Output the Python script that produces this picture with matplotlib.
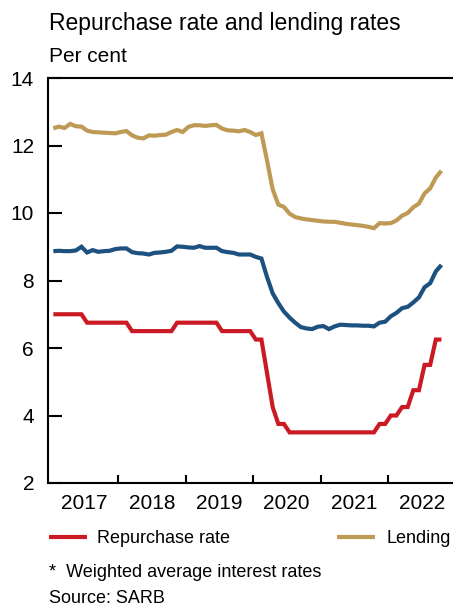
import matplotlib
matplotlib.use("Agg")
import matplotlib.pyplot as plt
from matplotlib.lines import Line2D
import numpy as np

plt.rcParams['font.family'] = ['Liberation Sans', 'DejaVu Sans']

# monthly data, Jan 2017 .. Oct 2022
start_year = 2017
repo = [7.0, 7.0, 7.0, 7.0, 7.0, 7.0,
        6.75, 6.75, 6.75, 6.75, 6.75, 6.75, 6.75, 6.75,
        6.5, 6.5, 6.5, 6.5, 6.5, 6.5, 6.5, 6.5,
        6.75, 6.75, 6.75, 6.75, 6.75, 6.75, 6.75, 6.75,
        6.5, 6.5, 6.5, 6.5, 6.5, 6.5,
        6.25, 6.25, 5.25, 4.25, 3.75, 3.75,
        3.5, 3.5, 3.5, 3.5, 3.5, 3.5, 3.5, 3.5,
        3.5, 3.5, 3.5, 3.5, 3.5, 3.5, 3.5, 3.5,
        3.75, 3.75, 4.0, 4.0, 4.25, 4.25, 4.75, 4.75, 5.5, 5.5, 6.25, 6.25]
lending_hh = [12.51, 12.56, 12.52, 12.64, 12.57, 12.56, 12.44, 12.40, 12.39, 12.38,
              12.37, 12.36, 12.40, 12.43, 12.30, 12.23, 12.21, 12.30, 12.29, 12.31,
              12.32, 12.40, 12.46, 12.40, 12.55, 12.60, 12.60, 12.58, 12.60, 12.61,
              12.50, 12.45, 12.44, 12.42, 12.46, 12.40, 12.31, 12.36, 11.55, 10.70,
              10.25, 10.18, 9.98, 9.88, 9.84, 9.81, 9.79, 9.77, 9.75, 9.74,
              9.74, 9.71, 9.68, 9.66, 9.64, 9.62, 9.59, 9.55, 9.70, 9.69,
              9.70, 9.78, 9.92, 10.00, 10.17, 10.28, 10.58, 10.73, 11.05, 11.25]
lending_co = [8.87, 8.88, 8.87, 8.87, 8.89, 9.00, 8.83, 8.90, 8.85, 8.87,
              8.88, 8.93, 8.95, 8.95, 8.84, 8.81, 8.80, 8.77, 8.82, 8.83,
              8.85, 8.88, 9.01, 9.00, 8.98, 8.97, 9.02, 8.97, 8.97, 8.97,
              8.87, 8.84, 8.82, 8.77, 8.77, 8.77, 8.70, 8.65, 8.10, 7.62,
              7.33, 7.08, 6.90, 6.75, 6.62, 6.58, 6.56, 6.63, 6.65, 6.56,
              6.64, 6.69, 6.68, 6.67, 6.67, 6.66, 6.66, 6.64, 6.75, 6.78,
              6.94, 7.04, 7.18, 7.22, 7.35, 7.50, 7.80, 7.92, 8.27, 8.46]
years = [2017, 2018, 2019, 2020, 2021, 2022]
legend_names = ['Repurchase rate', 'Lending']

red = '#CB1A24'
gold = '#BE9A55'
blue = '#1D5180'

x = start_year + (np.arange(len(repo)) + 0.5) / 12

W, H = 453, 606
fig = plt.figure(figsize=(W / 100, H / 100), dpi=100)
ax = fig.add_axes([48 / W, 1 - 483 / H, (W - 48) / W, (483 - 78) / H])

ax.plot(x, lending_hh, color=gold, lw=3, solid_capstyle='butt', solid_joinstyle='miter')
ax.plot(x, lending_co, color=blue, lw=3, solid_capstyle='butt', solid_joinstyle='miter')
ax.plot(x, repo, color=red, lw=3, solid_capstyle='butt', solid_joinstyle='miter')

ax.set_xlim(2018 - 70 / 67.5, 2018 + 335 / 67.5)
ax.set_ylim(2, 14)
ax.set_yticks(range(2, 15, 2))
ax.tick_params(axis='y', direction='in', length=10, width=1.5, pad=10, labelsize=15)

ax.set_xticks(years[1:])
ax.set_xticklabels([])
ax.set_xticks([y + 0.5 for y in years], minor=True)
ax.set_xticklabels([str(y) for y in years], minor=True)
ax.tick_params(axis='x', which='major', direction='in', length=6, width=1.5)
ax.tick_params(axis='x', which='minor', length=0, pad=8, labelsize=15)

ax.spines['right'].set_visible(False)
for s in ['left', 'top', 'bottom']:
    ax.spines[s].set_linewidth(1.5)

fig.text(49 / W, 1 - 30 / H, 'Repurchase rate and lending rates', fontsize=16.5, va='baseline')
fig.text(49 / W, 1 - 62 / H, 'Per cent', fontsize=15, va='baseline')

# legend drawn by hand
for (x0, x1, xt), c, name in zip([(49, 87, 97), (337, 375, 387)], [red, gold], legend_names):
    fig.add_artist(Line2D([x0 / W, x1 / W], [1 - 537 / H] * 2, color=c, lw=3,
                          solid_capstyle='butt'))
    fig.text(xt / W, 1 - 543 / H, name, fontsize=13, va='baseline')

fig.text(49 / W, 1 - 577 / H, '*  Weighted average interest rates', fontsize=13, va='baseline')
fig.text(49 / W, 1 - 603 / H, 'Source: SARB', fontsize=13, va='baseline')

fig.savefig('out.png', dpi=100)
